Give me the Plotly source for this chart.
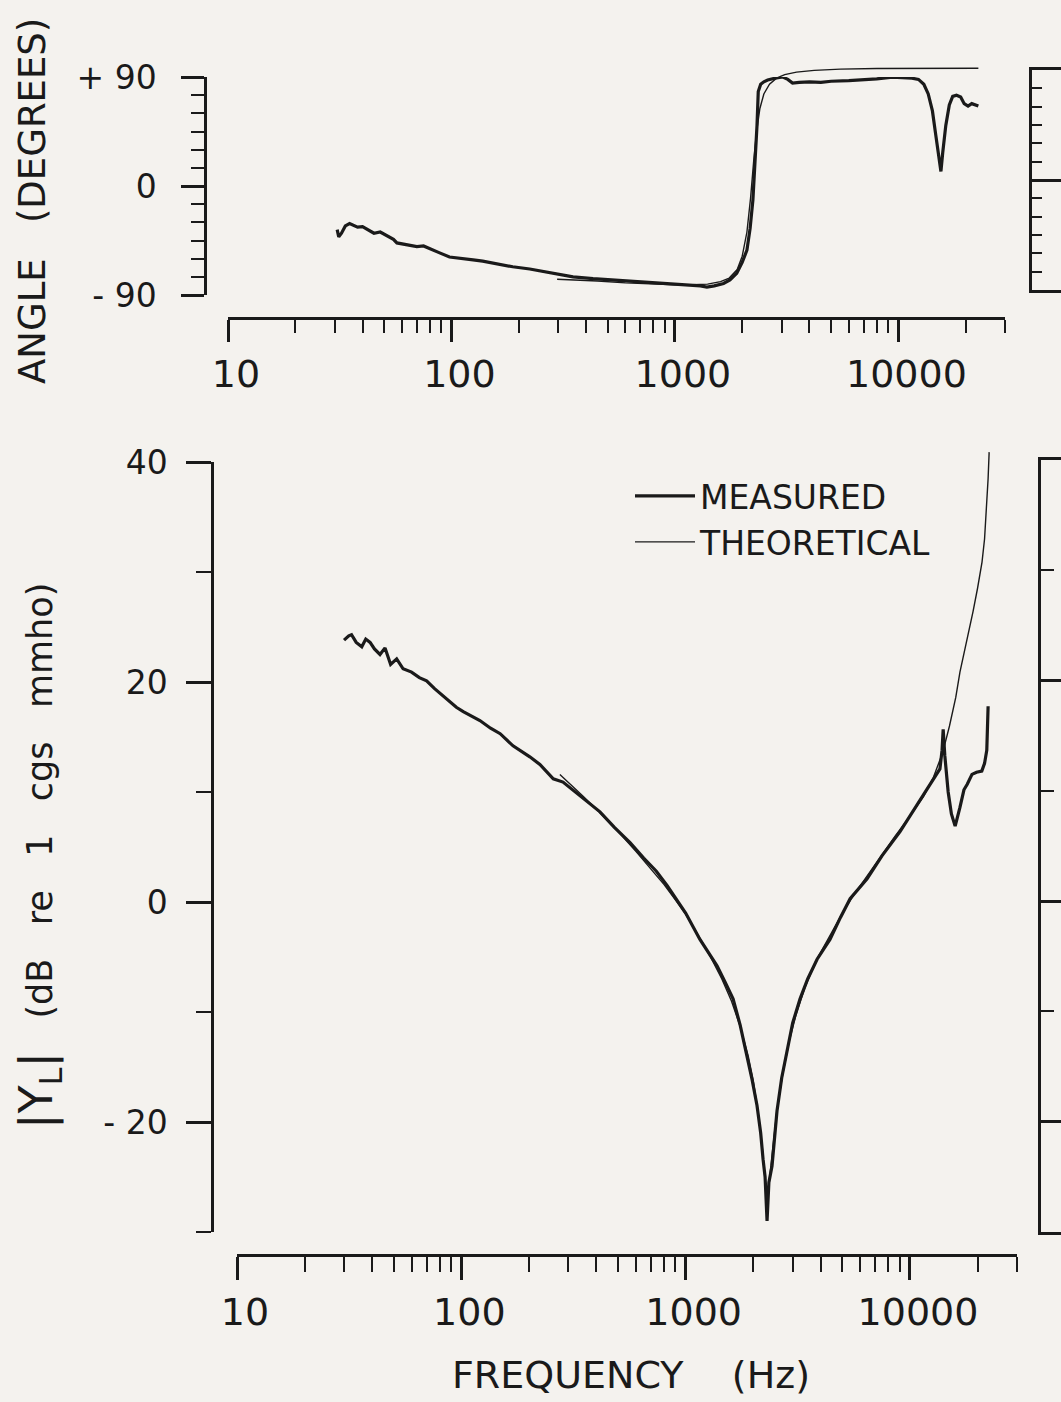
import plotly.graph_objects as go

# ---------------- data ----------------
# Angle panel: measured
ang_meas_f = [30.8, 31.3, 32.2, 33.5, 35, 36.5, 38, 40, 42, 45, 48, 51, 55, 57, 62, 66, 70, 75, 80, 88,
              98, 110, 125, 138, 160, 188, 224, 260, 300, 350, 430, 525, 600, 700, 800, 883, 1000, 1150,
              1300, 1390, 1500, 1650, 1763, 1890, 2000, 2100, 2170, 2233, 2290, 2330, 2360, 2420, 2500,
              2600, 2800, 3040, 3200, 3360, 3600, 4000, 4500, 5000, 6000, 6940, 8000, 9400, 10500, 11500,
              12300, 13000, 13600, 14200, 14700, 15200, 15500, 15800, 16300, 16900, 17500, 18200, 19000,
              19700, 20500, 21300, 22300, 22800]
ang_meas_v = [-36, -42, -39, -33, -31, -32.5, -34, -33.5, -36, -39, -38, -41, -44, -47, -48, -49, -50, -49.5,
              -52, -55, -58.6, -60, -61, -62, -64.5, -66.7, -68.5, -70.5, -73, -75, -76.5, -77.6, -78, -79,
              -79.5, -80, -81, -81.5, -82.5, -83.4, -82.5, -80.5, -77.6, -72, -63, -53, -35, -11.6, 20, 50,
              78, 84, 86, 87.5, 89, 90, 88, 85, 85.5, 86, 85.5, 86.5, 87, 87.5, 88.5, 89.8, 89.5, 89, 88,
              84, 76, 62, 42, 20, 12, 28, 50, 67, 74, 75, 73.5, 68, 66, 68, 67, 66]

# Angle panel: theoretical
ang_theo_f = [297, 350, 450, 600, 800, 1000, 1200, 1400, 1600, 1750, 1900, 2000, 2100, 2180, 2250, 2320,
              2400, 2500, 2650, 2850, 3100, 3500, 4200, 5500, 8000, 12000, 22800]
ang_theo_v = [-77, -77.5, -78.5, -80, -81, -81.5, -81.5, -81, -79, -76, -69, -58, -38, -10, 20, 45, 64, 76,
              84, 89, 92, 94, 95.5, 96.5, 97, 97.2, 97.2]

# Magnitude panel: measured
mag_meas_f = [30.0, 31.5, 32.4, 34, 36, 37.5, 39.2, 41, 43.4, 45.7, 48.4, 51.5, 55, 60, 65, 70, 76, 85, 95,
              102, 121, 135, 149, 170, 202, 224, 257, 284, 330, 415, 480, 565, 650, 740, 826, 900, 1000,
              1158, 1280, 1380, 1500, 1627, 1750, 1878, 1980, 2080, 2160, 2214, 2260, 2306, 2350, 2427,
              2490, 2554, 2680, 2830, 3000, 3236, 3500, 3855, 4400, 4900, 5410, 6440, 7500, 9030, 10300,
              11900, 12800, 13600, 13900, 14060, 14300, 14800, 15300, 15900, 16700, 17400, 18000, 18900,
              19800, 20900, 21500, 22000, 22300]
mag_meas_v = [23.8, 24.2, 24.3, 23.6, 23.2, 23.9, 23.6, 23.0, 22.5, 23.1, 21.6, 22.1, 21.2, 20.9, 20.4, 20.1,
              19.4, 18.5, 17.7, 17.3, 16.5, 15.8, 15.3, 14.2, 13.2, 12.5, 11.2, 10.9, 9.8, 8.2, 6.8, 5.4,
              4.0, 2.8, 1.5, 0.4, -1.0, -3.4, -4.8, -5.8, -7.3, -8.8, -11.2, -14.0, -16.2, -18.5, -21.0,
              -23.4, -25.0, -29.0, -25.5, -24.0, -21.5, -19.0, -16.0, -13.4, -11.0, -8.8, -7.0, -5.2, -3.4,
              -1.4, 0.3, 2.1, 4.2, 6.4, 8.2, 10.3, 11.3, 12.1, 13.8, 15.7, 13.3, 10.0, 8.0, 6.9, 8.6, 10.2,
              10.7, 11.6, 11.8, 11.9, 12.6, 13.8, 17.8]

# Magnitude panel: theoretical
mag_theo_f = [275, 300, 350, 420, 500, 600, 700, 800, 900, 1000, 1150, 1300, 1450, 1600, 1750, 1900, 2000,
              2100, 2200, 2280, 2310, 2340, 2420, 2550, 2700, 2900, 3100, 3400, 3800, 4400, 5000, 5600,
              6500, 7500, 8600, 10000, 11500, 12700, 14000, 15000, 16000, 16700, 18000, 19100, 20000,
              20950, 21500, 22000, 22300, 22540]
mag_theo_v = [11.6, 10.9, 9.6, 8.0, 6.4, 4.6, 3.0, 1.6, 0.2, -1.1, -3.2, -5.1, -7.0, -9.0, -11.3, -14.0,
              -16.2, -19.0, -22.5, -26.0, -27.5, -26.0, -23.0, -19.0, -15.8, -12.6, -10.3, -7.8, -5.4, -3.0,
              -1.0, 0.6, 2.5, 4.3, 6.0, 7.8, 9.6, 11.3, 13.6, 16.0, 18.6, 20.9, 23.8, 26.4, 28.5, 30.9, 33.0,
              36.0, 38.5, 40.9]

# Tick labels
freq_tickvals = [10, 100, 1000, 10000]
freq_ticktext = ["10", "100", "1000", "10000"]
freq_minor = [m * 10 ** k for k in (1, 2, 3) for m in range(2, 10)] + [20000, 30000]
ang_tickvals = [-90, 0, 90]
ang_ticktext = ["- 90", "0", "+ 90"]
mag_tickvals = [-20, 0, 20, 40]
mag_ticktext = ["- 20", "0", "20", "40"]

# ---------------- layout helpers ----------------
W, H = 1061, 1402
BG = "#f4f2ee"
INK = "#1a1a1a"
FONT = "DejaVu Sans"


def px_x(p):
    return p / W


def px_y(p):
    return 1 - p / H


fig = go.Figure()

# measured curves on the displayed axes, theoretical on hidden twins that allow a little overshoot
fig.add_trace(go.Scatter(x=ang_meas_f, y=ang_meas_v, mode="lines", name="MEASURED",
                         line=dict(color=INK, width=3.2), xaxis="x", yaxis="y", showlegend=False))
fig.add_trace(go.Scatter(x=ang_theo_f, y=ang_theo_v, mode="lines", name="THEORETICAL",
                         line=dict(color=INK, width=1.4), xaxis="x", yaxis="y3", showlegend=False))
fig.add_trace(go.Scatter(x=mag_meas_f, y=mag_meas_v, mode="lines", name="MEASURED",
                         line=dict(color=INK, width=3.2), xaxis="x2", yaxis="y2"))
fig.add_trace(go.Scatter(x=mag_theo_f, y=mag_theo_v, mode="lines", name="THEORETICAL",
                         line=dict(color=INK, width=1.4), xaxis="x2", yaxis="y4"))
# empty placeholders so the neighbouring (cut-off) panels' frames get drawn
fig.add_trace(go.Scatter(x=[], y=[], xaxis="x5", yaxis="y5", showlegend=False, hoverinfo="skip"))
fig.add_trace(go.Scatter(x=[], y=[], xaxis="x6", yaxis="y6", showlegend=False, hoverinfo="skip"))

axis_line = dict(showline=True, linecolor=INK, linewidth=2.5, showgrid=False, zeroline=False,
                 ticks="outside", tickcolor=INK, tickwidth=2.5, automargin=False)

LOGMAX = 4.4771  # log10(30000)

TOP_Y0, TOP_Y1 = 295, 77          # pixel rows of -90 and +90
TOP_PPD = (TOP_Y0 - TOP_Y1) / 180.0
BOT_Y0, BOT_Y1 = 1232, 462        # pixel rows of -30 and +40
BOT_PPD = (BOT_Y0 - BOT_Y1) / 70.0

fig.update_layout(
    width=W, height=H,
    margin=dict(l=0, r=0, t=0, b=0, pad=0, autoexpand=False),
    paper_bgcolor=BG, plot_bgcolor="rgba(0,0,0,0)",
    font=dict(family=FONT, color=INK),
    showlegend=True,
    legend=dict(x=px_x(630), y=px_y(468), xanchor="left", yanchor="top",
                font=dict(size=33, family=FONT, color=INK), bgcolor="rgba(0,0,0,0)",
                itemwidth=60, tracegroupgap=0),
    # ---- top panel (phase) ----
    xaxis=dict(type="log", range=[1, LOGMAX], domain=[px_x(228), px_x(1005)], anchor="free",
               position=px_y(318), tickvals=freq_tickvals, ticktext=freq_ticktext, ticklen=22,
               tickfont=dict(size=38), ticklabelstandoff=0, ticklabelshift=8,
               minor=dict(tickvals=freq_minor, ticks="outside", ticklen=13, tickwidth=2.2, tickcolor=INK),
               **axis_line),
    yaxis=dict(range=[-90, 90], domain=[px_y(TOP_Y0), px_y(TOP_Y1)], anchor="free", position=px_x(205),
               visible=True, tickvals=ang_tickvals, ticktext=ang_ticktext, ticklen=23,
               tickfont=dict(size=33), ticklabelstandoff=18,
               minor=dict(dtick=15, ticks="outside", ticklen=13, tickwidth=2.2, tickcolor=INK),
               **axis_line),
    yaxis3=dict(range=[-100, 100], domain=[px_y(TOP_Y0 + 10 * TOP_PPD), px_y(TOP_Y1 - 10 * TOP_PPD)],
                anchor="x", visible=False, showgrid=False, zeroline=False, automargin=False),
    # ---- bottom panel (magnitude) ----
    xaxis2=dict(type="log", range=[1, LOGMAX], domain=[px_x(237), px_x(1017)], anchor="free",
                position=px_y(1255), tickvals=freq_tickvals, ticktext=freq_ticktext, ticklen=23,
                tickfont=dict(size=38), ticklabelstandoff=0, ticklabelshift=8,
                minor=dict(tickvals=freq_minor, ticks="outside", ticklen=15, tickwidth=2.2, tickcolor=INK),
                **axis_line),
    yaxis2=dict(range=[-30, 40], domain=[px_y(BOT_Y0), px_y(BOT_Y1)], anchor="free", position=px_x(212),
                visible=True, tickvals=mag_tickvals, ticktext=mag_ticktext, ticklen=25,
                tickfont=dict(size=33), ticklabelstandoff=12,
                minor=dict(dtick=10, ticks="outside", ticklen=15, tickwidth=2.2, tickcolor=INK),
                **axis_line),
    yaxis4=dict(range=[-32, 42], domain=[px_y(BOT_Y0 + 2 * BOT_PPD), px_y(BOT_Y1 - 2 * BOT_PPD)],
                anchor="x2", visible=False, showgrid=False, zeroline=False, automargin=False),
    # ---- partial neighbouring panels at the right edge ----
    xaxis5=dict(domain=[px_x(1032), 1.0], range=[0, 1], anchor="y5", visible=True, showline=True,
                mirror=True, linecolor=INK, linewidth=2.5, ticks="", showticklabels=False,
                showgrid=False, zeroline=False, automargin=False),
    yaxis5=dict(domain=[px_y(290), px_y(70)], range=[-90, 90], anchor="x5", visible=True, showline=True,
                linecolor=INK, linewidth=2.5, ticks="inside", tickvals=[0], ticklen=30, tickwidth=2.5,
                tickcolor=INK, showticklabels=False, showgrid=False, zeroline=False, automargin=False,
                minor=dict(dtick=15, ticks="inside", ticklen=10, tickwidth=2.2, tickcolor=INK)),
    xaxis6=dict(domain=[px_x(1041), 1.0], range=[0, 1], anchor="y6", visible=True, showline=True,
                mirror=True, linecolor=INK, linewidth=2.5, ticks="", showticklabels=False,
                showgrid=False, zeroline=False, automargin=False),
    yaxis6=dict(domain=[px_y(1232), px_y(460)], range=[-30, 40], anchor="x6", visible=True, showline=True,
                linecolor=INK, linewidth=2.5, ticks="inside", tickvals=[-20, 0, 20], ticklen=25,
                tickwidth=2.5, tickcolor=INK, showticklabels=False, showgrid=False, zeroline=False,
                automargin=False,
                minor=dict(dtick=10, ticks="inside", ticklen=13, tickwidth=2.2, tickcolor=INK)),
)

NB = "\u00a0"
fig.add_annotation(text="ANGLE" + NB * 3 + "(DEGREES)", textangle=-90, x=px_x(33), y=px_y(201),
                   xanchor="center", yanchor="middle", xref="paper", yref="paper", showarrow=False,
                   font=dict(size=37, family=FONT, color=INK))
fig.add_annotation(text='<span style="font-size:46px">|Y<sub>L</sub>|</span>' + NB * 3 + "(dB" + NB * 3
                        + "re" + NB * 3 + "1" + NB * 3 + "cgs" + NB * 3 + "mmho)",
                   textangle=-90, x=px_x(40), y=px_y(856), xanchor="center", yanchor="middle",
                   xref="paper", yref="paper", showarrow=False,
                   font=dict(size=35, family=FONT, color=INK))
fig.add_annotation(text="FREQUENCY" + NB * 4 + "(Hz)", x=px_x(631), y=px_y(1375),
                   xanchor="center", yanchor="middle", xref="paper", yref="paper", showarrow=False,
                   font=dict(size=38, family=FONT, color=INK))

fig.write_html("out.html")
